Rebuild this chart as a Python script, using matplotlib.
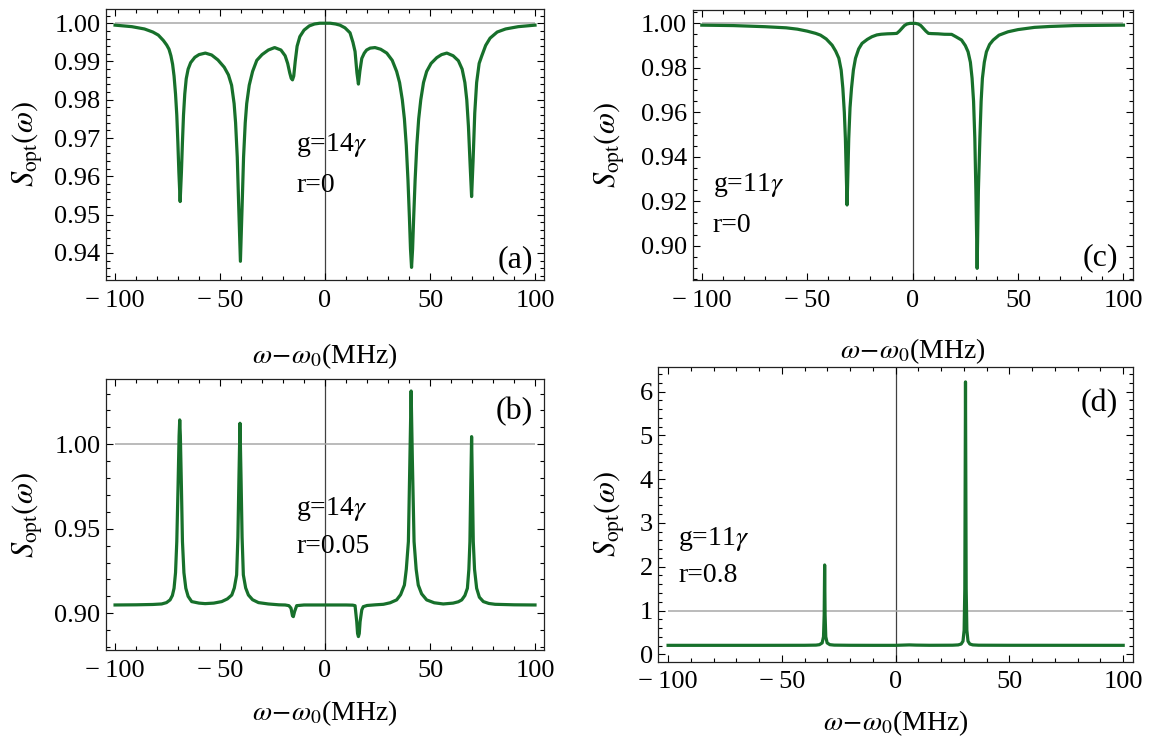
import matplotlib
matplotlib.use("Agg")
import matplotlib.pyplot as plt
from matplotlib.ticker import MultipleLocator, FixedLocator, FuncFormatter

plt.rcParams['font.family'] = ['Liberation Serif', 'DejaVu Serif']
plt.rcParams['mathtext.fontset'] = 'stix'

# ---------------- data ----------------
# panel (a): g=14γ, r=0
x_a = [-100, -92, -86, -82, -79.4, -77, -75.4, -74.3, -73.4, -72.6, -71.9, -71.2, -70.6,
       -70.1, -69.6, -69.0, -68.4, -67.9, -67.4, -66.8, -66.1, -65.2, -64.0, -62, -60,
       -57, -54, -51, -48, -46, -44.5, -43.3, -42.6, -41.8, -41.1, -40.3, -39.5, -38.8,
       -38.0, -37.3, -36.1, -34.5, -32.5, -30, -27, -24, -21, -19, -17.8, -16.8, -16.1,
       -15.5, -14.9, -14.2, -13.3, -12, -10, -7.5, -5, -2.5, 0, 2.5, 5, 7.1, 9.5, 11.9,
       13.3, 14.3, 15.2, 15.9, 16.6, 17.5, 18.7, 19.8, 21.5, 23.8, 26.5, 29.4, 32, 34.1,
       35.5, 36.8, 37.8, 38.7, 39.5, 40.2, 40.7, 41.2, 41.7, 42.2, 42.9, 43.7, 44.6,
       45.6, 46.9, 48.4, 50.5, 53.2, 55.5, 58, 61, 63.5, 65.3, 66.6, 67.5, 68.3, 69.1,
       69.8, 70.5, 71.3, 72.2, 73.4, 74.6, 76.5, 78.6, 82, 86, 92, 100]
y_a = [0.9995, 0.9991, 0.9985, 0.9977, 0.9969, 0.9955, 0.9943, 0.9932, 0.9915, 0.9893,
       0.9862, 0.9815, 0.9760, 0.9690, 0.9610, 0.9534, 0.9610, 0.9690, 0.9760, 0.9815,
       0.9855, 0.9880, 0.9897, 0.9911, 0.9918, 0.9922, 0.9917, 0.9904, 0.9885, 0.9865,
       0.9838, 0.9790, 0.9740, 0.9650, 0.9520, 0.9378, 0.9520, 0.9650, 0.9740, 0.9790,
       0.9838, 0.9874, 0.9903, 0.9918, 0.9930, 0.99364, 0.9930, 0.9915, 0.9895, 0.9870,
       0.9856, 0.9852, 0.9862, 0.9900, 0.9940, 0.9965, 0.9982, 0.9993, 0.9998, 1.0000,
       1.0000, 1.0000, 0.9998, 0.9995, 0.9988, 0.9975, 0.9950, 0.9926, 0.9870, 0.9841,
       0.9875, 0.9908, 0.9922, 0.9930, 0.9935, 0.99364, 0.9932, 0.9922, 0.9903, 0.9874,
       0.9845, 0.9800, 0.9750, 0.9680, 0.9590, 0.9490, 0.9410, 0.9362, 0.9410, 0.9490,
       0.9590, 0.9680, 0.9750, 0.9800, 0.9845, 0.9874, 0.9895, 0.9910, 0.9918, 0.9922,
       0.9915, 0.9902, 0.9880, 0.9845, 0.9800, 0.9730, 0.9630, 0.9547, 0.9640, 0.9765,
       0.9845, 0.9895, 0.9914, 0.9942, 0.9961, 0.9977, 0.9985, 0.9991, 0.9995]

# panel (b): g=14γ, r=0.05
x_b = [-100, -90, -82, -77.8, -75.5, -73.8, -72.7, -71.9, -71.2, -70.6, -70.0, -69.5,
       -69.2, -68.9, -68.4, -67.9, -67.2, -66.3, -65.2, -63.5, -60, -57.1, -53, -49.2,
       -46.5, -44.4, -43.2, -42.1, -41.5, -41.0, -40.5, -40.0, -39.5, -38.9, -37.8,
       -36.5, -34.5, -31.7, -27, -22, -19, -17.2, -16.2, -15.5, -15.1, -14.5, -13.5,
       -10, -5, 0, 5, 10, 13.2, 14.3, 15.1, 15.5, 15.9, 16.3, 16.7, 17.5, 18.2, 20, 24,
       27.8, 31, 34.1, 36.0, 37.1, 37.8, 38.7, 39.7, 40.4, 41.0, 41.6, 42.4, 43.4, 44.4,
       46.0, 48.4, 52, 56.3, 61, 63.5, 65.1, 66.6, 67.8, 68.5, 69.0, 69.4, 69.8, 70.2,
       70.6, 71.2, 72.2, 73.5, 75.4, 78, 81, 90, 100]
y_b = [0.9049, 0.9050, 0.9052, 0.9055, 0.9063, 0.9079, 0.9105, 0.9148, 0.9240, 0.9424,
       0.9750, 1.0050, 1.0144, 1.0050, 0.9750, 0.9424, 0.9240, 0.9148, 0.9100, 0.9069,
       0.9060, 0.9057, 0.9060, 0.9069, 0.9085, 0.9108, 0.9150, 0.9227, 0.9450, 0.9800,
       1.0124, 0.9800, 0.9450, 0.9227, 0.9150, 0.9108, 0.9080, 0.9063, 0.9055, 0.9050,
       0.9049, 0.9045, 0.9030, 0.8985, 0.8980, 0.9010, 0.9045, 0.9049, 0.9049, 0.9049,
       0.9049, 0.9049, 0.9048, 0.9045, 0.8950, 0.8880, 0.8862, 0.8880, 0.8950, 0.9020,
       0.9039, 0.9046, 0.9050, 0.9053, 0.9062, 0.9079, 0.9110, 0.9145, 0.9167, 0.9260,
       0.9424, 0.9900, 1.0315, 0.9900, 0.9424, 0.9260, 0.9167, 0.9115, 0.9079, 0.9062,
       0.9055, 0.9060, 0.9068, 0.9079, 0.9105, 0.9148, 0.9260, 0.9424, 0.9750, 1.0045,
       0.9750, 0.9424, 0.9260, 0.9148, 0.9095, 0.9069, 0.9058, 0.9053, 0.9050, 0.9049]

# panel (c): g=11γ, r=0
x_c = [-100, -85, -70, -60, -54.7, -50, -46, -43.7, -41, -38.2, -36.5, -35.0, -33.9,
       -33.1, -32.4, -31.9, -31.5, -31.1, -30.7, -30.3, -29.7, -29.0, -28.1, -27.1,
       -25.6, -24.0, -21.5, -19.3, -17, -15, -12, -9, -7.5, -6.3, -5.1, -3.9, -2.7,
       -1.3, 0, 1.3, 2.7, 3.9, 5.1, 6.3, 7.5, 9, 12, 15, 18.5, 20.5, 23.2, 25, 26.3,
       27.4, 28.2, 28.9, 29.5, 30.0, 30.6, 31.2, 31.9, 32.5, 33.1, 34.0, 35.0, 36.5,
       38.2, 41, 45.2, 50, 57.8, 65, 76.7, 88, 100]
y_c = [0.9992, 0.9990, 0.9985, 0.9980, 0.9974, 0.9965, 0.9955, 0.9947, 0.9930, 0.9902,
       0.9875, 0.9843, 0.9790, 0.9708, 0.9600, 0.9483, 0.9330, 0.9183, 0.9330, 0.9483,
       0.9620, 0.9708, 0.9790, 0.9843, 0.9885, 0.9910, 0.9928, 0.9940, 0.9948, 0.9951,
       0.9953, 0.9954, 0.9955, 0.9965, 0.99775, 0.9990, 0.9997, 1.0000, 1.0000, 1.0000,
       0.9997, 0.9990, 0.99775, 0.9965, 0.9955, 0.9954, 0.9953, 0.9951, 0.99505, 0.9940,
       0.9925, 0.9900, 0.9872, 0.9825, 0.9753, 0.9650, 0.9483, 0.9250, 0.8898, 0.9250,
       0.9483, 0.9650, 0.9753, 0.9825, 0.9872, 0.9905, 0.9925, 0.9947, 0.9962, 0.9972,
       0.9982, 0.9986, 0.9990, 0.9991, 0.9992]

# panel (d): g=11γ, r=0.8
x_d = [-100, -60, -40, -35, -33.5, -32.3, -31.7, -31.4, -31.2, -31.0, -30.7, -30.1,
       -28.9, -27, -20, -10, 0, 3, 6, 9, 15, 25, 27.5, 28.8, 29.6, 30.1, 30.4, 30.7,
       31.0, 31.3, 31.8, 32.6, 33.9, 36.5, 50, 100]
y_d = [0.205, 0.205, 0.206, 0.210, 0.220, 0.260, 0.400, 0.900, 2.040, 0.900, 0.400,
       0.260, 0.220, 0.210, 0.206, 0.205, 0.205, 0.210, 0.215, 0.210, 0.206, 0.208,
       0.215, 0.235, 0.300, 0.550, 1.500, 6.220, 1.500, 0.550, 0.300, 0.235, 0.215,
       0.208, 0.206, 0.205]

x_ticks = [-100, -50, 0, 50, 100]
yticks_a = [0.94, 0.95, 0.96, 0.97, 0.98, 0.99, 1.00]
yticks_b = [0.90, 0.95, 1.00]
yticks_c = [0.90, 0.92, 0.94, 0.96, 0.98, 1.00]
yticks_d = [0, 1, 2, 3, 4, 5, 6]

# ---------------- styling ----------------
GREEN = '#17702b'
FS = 19

fig = plt.figure(figsize=(11.6, 7.43), dpi=100)

def xfmt(v, p):
    return ('\u2212\u2009%d' % abs(v)) if v < 0 else '%d' % v

def make_axes(rect, x, y, ylim, yticks, yminor, yfmt, ylab_x, xlab_y,
              ann_x, ann_y1, ann_y2, ann1, ann2, tag, tag_xy):
    ax = fig.add_axes(rect)
    ax.set_xlim(-104.3, 104.3)
    ax.set_ylim(*ylim)
    ax.axvline(0, color='#404040', lw=0.9, zorder=1)
    ax.hlines(1.0, -100, 100, color='#a8a8a8', lw=1.1, zorder=1)
    ax.plot(x, y, color=GREEN, lw=2.3, zorder=3, solid_joinstyle='round')
    ax.xaxis.set_major_locator(FixedLocator(x_ticks))
    ax.xaxis.set_minor_locator(MultipleLocator(10))
    ax.yaxis.set_major_locator(FixedLocator(yticks))
    ax.yaxis.set_minor_locator(MultipleLocator(yminor))
    ax.yaxis.set_major_formatter(FuncFormatter(lambda v, p: yfmt.format(v)))
    ax.xaxis.set_major_formatter(FuncFormatter(xfmt))
    ax.tick_params(which='both', direction='in', top=True, right=True,
                   labelsize=FS, colors='black', width=0.8)
    ax.tick_params(which='major', length=5)
    ax.tick_params(which='minor', length=2.8)
    ax.tick_params(axis='x', pad=7)
    ax.tick_params(axis='y', pad=4)
    for s in ax.spines.values():
        s.set_linewidth(0.9)
        s.set_color('#222222')
    ax.set_ylabel(r'$S_{\mathrm{opt}}(\omega)$', fontsize=22)
    ax.yaxis.set_label_coords(ylab_x, 0.5)
    ax.set_xlabel(r'$\omega\!-\!\omega_0$(MHz)', fontsize=20)
    ax.xaxis.set_label_coords(0.5, xlab_y)
    ax.text(ann_x, ann_y1, ann1, fontsize=20, ha='left', va='baseline')
    ax.text(ann_x, ann_y2, ann2, fontsize=20, ha='left', va='baseline')
    ax.text(tag_xy[0], tag_xy[1], tag, fontsize=23, ha='right', va='center',
            transform=ax.transAxes)
    return ax

make_axes([0.0914, 0.6231, 0.3776, 0.3647], x_a, y_a, (0.9329, 1.0037),
          yticks_a, 0.002, '{:.2f}', -0.139, -0.227,
          -13.8, 0.9665, 0.9560, r'g=14$\gamma$', 'r=0', '(a)', (0.974, 0.075))
make_axes([0.0914, 0.1248, 0.3776, 0.3651], x_b, y_b, (0.8781, 1.0386),
          yticks_b, 0.01, '{:.2f}', -0.139, -0.176,
          -13.8, 0.9582, 0.9355, r'g=14$\gamma$', 'r=0.05', '(b)', (0.974, 0.88))
make_axes([0.5972, 0.6227, 0.3791, 0.3638], x_c, y_c, (0.8844, 1.006),
          yticks_c, 0.005, '{:.2f}', -0.149, -0.206,
          -94.8, 0.9246, 0.9063, r'g=11$\gamma$', 'r=0', '(c)', (0.967, 0.085))
make_axes([0.5675, 0.1094, 0.4092, 0.3962], x_d, y_d, (-0.169, 6.553),
          yticks_d, 0.2, '{:.0f}', -0.066, -0.157,
          -95.6, 2.495, 1.658, r'g=11$\gamma$', 'r=0.8', '(d)', (0.969, 0.878))

fig.savefig('out.png', dpi=100)
